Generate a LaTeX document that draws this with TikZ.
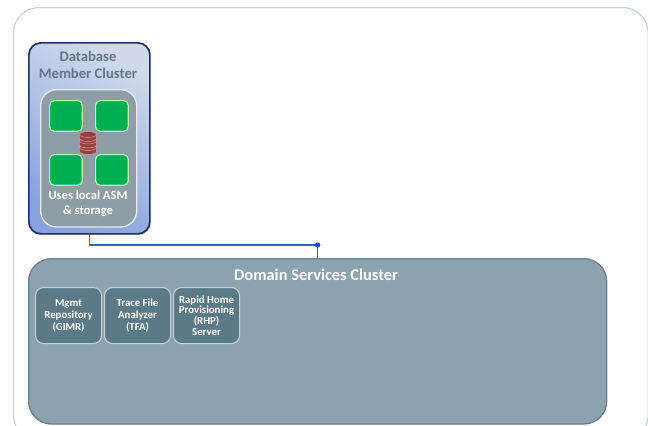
\documentclass[tikz,border=0pt]{standalone}
\usepackage{fontspec}
\setmainfont{Carlito}
\usetikzlibrary{positioning, shapes.geometric, shadows}
\definecolor{panelgrey}{HTML}{8F9EA6}
\definecolor{domainfill}{HTML}{8BA3AF}
\definecolor{domainedge}{HTML}{6F8188}
\definecolor{subfill}{HTML}{5B7987}
\definecolor{subedge}{HTML}{C4D2D6}
\definecolor{linkblue}{HTML}{1F6DBE}
\definecolor{dbred}{HTML}{9A3F3F}
\definecolor{memberlight}{HTML}{D0D9EC}
\definecolor{memberblue}{HTML}{86A2DF}
\definecolor{memberedge}{HTML}{1F3464}
\definecolor{outeredge}{HTML}{C3D0CC}
\definecolor{membertext}{HTML}{667487}

\begin{document}
\begin{tikzpicture}[x=0.75pt,y=-0.75pt,font=\bfseries,inner sep=0pt,align=center]
  \tikzstyle{box}=[rectangle,anchor=north west,text centered]
  \tikzstyle{outerbox}=[box,draw=outeredge,line width=0.8pt,fill=white,rounded corners=19pt,minimum width=476pt,minimum height=325pt]
  \tikzstyle{memberbox}=[box,draw=memberedge,line width=1.3pt,rounded corners=9pt,minimum width=90.75pt,minimum height=143.25pt,left color=memberlight,right color=memberblue,shading angle=330,drop shadow={shadow xshift=1pt,shadow yshift=-1pt,opacity=.3}]
  \tikzstyle{panelbox}=[box,draw=white!80!panelgrey,line width=1pt,fill=panelgrey,rounded corners=12pt,minimum width=72pt,minimum height=103pt]
  \tikzstyle{hostbox}=[box,draw=white!70!green,line width=0.9pt,fill={rgb,255:red,0;green,176;blue,80},rounded corners=3.5pt,minimum width=24.5pt,minimum height=23pt]
  \tikzstyle{domainbox}=[box,draw=domainedge,line width=1pt,fill=domainfill,rounded corners=17pt,minimum width=433.5pt,minimum height=124pt]
  \tikzstyle{subbox}=[box,draw=subedge,line width=0.8pt,fill=subfill,rounded corners=6pt,minimum width=49.5pt,minimum height=42pt,text=white,font=\bfseries\fontsize{8.1pt}{9pt}\selectfont]
  \tikzstyle{disk}=[fill=dbred,draw=white!55!dbred,line width=0.35pt]
  \tikzstyle{link}=[draw=linkblue,line width=1pt]

  \useasboundingbox (0,0) rectangle (648,425);

  \node[outerbox]  (outer)  at (13,7)     {};
  \node[memberbox] (member) at (28,42)    {};
  \node[panelbox]  (panel)  at (40,89)    {};

  \node[hostbox] (host_1) at (49,100)  {};
  \node[hostbox] (host_2) at (95,100)  {};
  \node[hostbox] (host_3) at (49,154)  {};
  \node[hostbox] (host_4) at (95,154)  {};

  \foreach \disktop in {147.5,141,134.5} {
    \draw[disk] (79.5,\disktop) -- (79.5,\disktop+4)
      arc[start angle=180,end angle=360,x radius=6.4pt,y radius=2.2pt]
      -- (96.5,\disktop) -- cycle;
    \draw[disk] (88,\disktop) ellipse (6.4pt and 2.2pt);
  }

  \node[text=membertext,font=\bfseries\fontsize{11pt}{12.6pt}\selectfont] (member_label) at (88,65) {Database\\Member Cluster};
  \node[text=white,font=\bfseries\fontsize{9.4pt}{11.2pt}\selectfont] (panel_label) at (88,204) {Uses local ASM\\\& storage};

  \node[domainbox] (domain) at (28,258) {};
  \node[text=white,font=\bfseries\fontsize{12.3pt}{14pt}\selectfont] (domain_label) at (316,275) {Domain Services Cluster};

  \node[subbox] (gimr) at (35,287)  {Mgmt\\Repository\\(GIMR)};
  \node[subbox] (tfa)  at (104,287) {Trace File\\Analyzer\\(TFA)};
  \node[subbox,font=\bfseries\fontsize{8.1pt}{8.1pt}\selectfont] (rhp) at (173,287) {Rapid Home\\Provisioning\\(RHP)\\Server};

  \coordinate (junction) at (domain.north |- 0,245);
  \draw[link] (member.south) |- (junction) -- (domain.north);
  \fill[linkblue!70!blue] (junction) circle (2pt);
\end{tikzpicture}
\end{document}
